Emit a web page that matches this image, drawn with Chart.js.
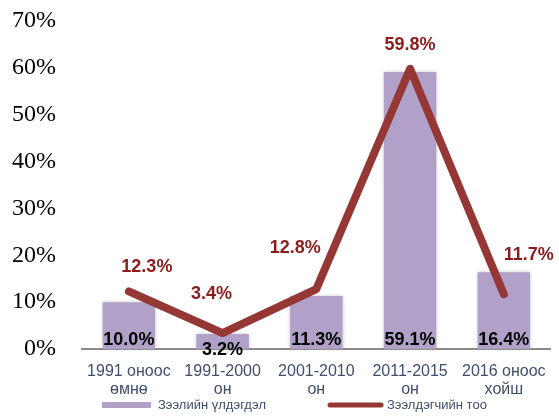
<!DOCTYPE html>
<html>
<head>
<meta charset="utf-8">
<script src="https://cdn.jsdelivr.net/npm/chart.js@4"></script>
<style>
  html, body { margin: 0; padding: 0; background: #fff; }
</style>
</head>
<body>
<canvas id="chart" width="559" height="419"></canvas>
<script>
const categories = [
  ['1991 оноос', 'өмнө'],
  ['1991-2000', 'он'],
  ['2001-2010', 'он'],
  ['2011-2015', 'он'],
  ['2016 оноос', 'хойш'],
];
const loanBalance = [10.0, 3.2, 11.3, 59.1, 16.4];
const borrowerCount = [12.3, 3.4, 12.8, 59.8, 11.7];
const seriesNames = ['Зээлийн үлдэгдэл', 'Зээлдэгчийн тоо'];
const yMax = 70;

const BAR_COLOR = '#B1A0C7';
const LINE_COLOR = '#953735';
const AXIS_TEXT = '#3F4E6B';

// label nudges (px) so the text sits where the original put it
const barLabelShift = [0, 10, 0, 0, 0];
const lineLabelShift = [[18, -24], [-11, -39], [-21, -41], [0, -24], [25, -39]];

const barShadow = {
  id: 'barShadow',
  beforeDatasetDraw(chart, args) {
    if (args.index !== 0) return;
    const ctx = chart.ctx;
    ctx.save();
    ctx.shadowColor = 'rgba(0,0,0,0.2)';
    ctx.shadowBlur = 4;
  },
  afterDatasetDraw(chart, args) {
    if (args.index === 0) chart.ctx.restore();
  },
};

const valueLabels = {
  id: 'valueLabels',
  afterDatasetsDraw(chart) {
    const ctx = chart.ctx;
    ctx.save();
    ctx.textAlign = 'center';
    ctx.textBaseline = 'middle';
    ctx.font = 'bold 18px "Liberation Sans", Arial, sans-serif';

    ctx.fillStyle = '#000';
    chart.getDatasetMeta(0).data.forEach((bar, i) => {
      ctx.fillText(loanBalance[i].toFixed(1) + '%', bar.x, bar.base - 9 + barLabelShift[i]);
    });

    ctx.fillStyle = '#8B1C1C';
    chart.getDatasetMeta(1).data.forEach((pt, i) => {
      const [dx, dy] = lineLabelShift[i];
      ctx.fillText(borrowerCount[i].toFixed(1) + '%', pt.x + dx, pt.y + dy);
    });
    ctx.restore();
  },
};

// hand-drawn legend: Chart.js can't give each item its own swatch shape/spacing
const bottomLegend = {
  id: 'bottomLegend',
  afterDraw(chart) {
    const ctx = chart.ctx;
    const y = 405;
    ctx.save();
    ctx.font = '13px "Liberation Sans", Arial, sans-serif';
    ctx.textBaseline = 'middle';

    ctx.fillStyle = BAR_COLOR;
    ctx.fillRect(102, y - 3, 49, 6);
    ctx.fillStyle = AXIS_TEXT;
    ctx.fillText(chart.data.datasets[0].label, 158, y);

    ctx.strokeStyle = LINE_COLOR;
    ctx.lineWidth = 5;
    ctx.lineCap = 'round';
    ctx.beginPath();
    ctx.moveTo(330, y);
    ctx.lineTo(381, y);
    ctx.stroke();
    ctx.fillText(chart.data.datasets[1].label, 387, y);
    ctx.restore();
  },
};

new Chart(document.getElementById('chart'), {
  data: {
    labels: categories,
    datasets: [
      {
        type: 'bar',
        label: seriesNames[0],
        data: loanBalance,
        backgroundColor: BAR_COLOR,
        borderWidth: 0,
        categoryPercentage: 1,
        barPercentage: 0.56,
        order: 2,
      },
      {
        type: 'line',
        label: seriesNames[1],
        data: borrowerCount,
        borderColor: LINE_COLOR,
        borderWidth: 8,
        borderCapStyle: 'round',
        borderJoinStyle: 'round',
        pointRadius: 0,
        tension: 0,
        order: 1,
      },
    ],
  },
  options: {
    responsive: false,
    animation: false,
    layout: { padding: { top: 0, right: 4, left: 0, bottom: 0 } },
    plugins: {
      legend: { display: false },
      tooltip: { enabled: false },
    },
    scales: {
      y: {
        min: 0,
        max: yMax,
        ticks: {
          stepSize: 10,
          padding: 26,
          color: '#000',
          font: { family: '"Liberation Serif", "Times New Roman", serif', size: 24, lineHeight: 1 },
          callback: (v) => v + '%',
        },
        grid: { display: false, drawTicks: false },
        border: { display: false },
        afterFit: (scale) => {
          scale.width = 82;
          // tick padding would otherwise push the plot top down
          scale.paddingTop = 21;
          scale.paddingBottom = 12;
        },
      },
      x: {
        offset: true,
        ticks: {
          padding: 13,
          color: AXIS_TEXT,
          maxRotation: 0,
          font: { family: '"Liberation Sans", Arial, sans-serif', size: 16, lineHeight: 1.15 },
        },
        grid: { display: false, drawTicks: false },
        border: { display: true, color: '#8C8C8C', width: 2 },
        afterFit: (scale) => { scale.height = 70; },
      },
    },
  },
  plugins: [barShadow, valueLabels, bottomLegend],
});
</script>
</body>
</html>
